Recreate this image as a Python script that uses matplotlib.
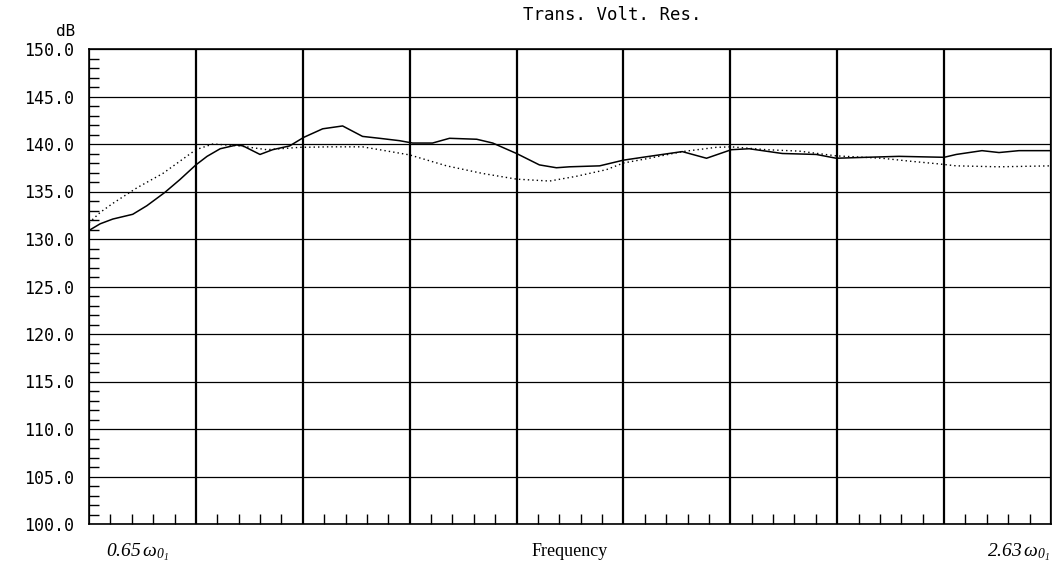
import numpy as np
import matplotlib
matplotlib.use("Agg")
import matplotlib.pyplot as plt
from matplotlib.ticker import MultipleLocator, FixedLocator, NullFormatter

plt.rcParams['mathtext.fontset'] = 'custom'
plt.rcParams['mathtext.rm'] = 'Liberation Serif:italic'
plt.rcParams['mathtext.it'] = 'Liberation Serif:italic'
plt.rcParams['mathtext.fallback'] = 'stix'

# ---------------- data ----------------
title = "Trans. Volt. Res."
y_unit = "dB"
x_label = "Frequency"
x_start_label = r"0.65$\,\omega_{0_{1}}$"
x_end_label = r"2.63$\,\omega_{0_{1}}$"
f_min, f_max = 0.65, 2.63
n_divisions = 9
y_min, y_max = 100.0, 150.0
y_ticks = [100.0, 105.0, 110.0, 115.0, 120.0, 125.0, 130.0, 135.0, 140.0, 145.0, 150.0]

solid_freq = [0.65, 0.673, 0.699, 0.740, 0.769, 0.806, 0.837, 0.870, 0.893, 0.920,
              0.954, 0.967, 1.002, 1.028, 1.063, 1.092, 1.131, 1.172, 1.213, 1.248,
              1.289, 1.316, 1.357, 1.392, 1.448, 1.481, 1.530, 1.577, 1.612, 1.639,
              1.701, 1.750, 1.803, 1.871, 1.921, 1.972, 2.009, 2.077, 2.147, 2.188,
              2.250, 2.317, 2.410, 2.435, 2.488, 2.523, 2.564, 2.63]
solid_db = [130.9, 131.6, 132.1, 132.6, 133.5, 134.9, 136.25, 137.8, 138.7, 139.5,
            139.9, 139.8, 138.9, 139.4, 139.8, 140.7, 141.6, 141.9, 140.8, 140.6,
            140.35, 140.1, 140.1, 140.6, 140.5, 140.1, 139.0, 137.8, 137.5, 137.6,
            137.7, 138.3, 138.7, 139.2, 138.5, 139.4, 139.5, 139.0, 138.9, 138.5,
            138.6, 138.7, 138.6, 138.9, 139.3, 139.1, 139.3, 139.3]

dotted_freq = [0.65, 0.673, 0.699, 0.749, 0.802, 0.870, 0.905, 0.960, 1.016, 1.084,
               1.145, 1.213, 1.248, 1.310, 1.386, 1.460, 1.530, 1.598, 1.653, 1.715,
               1.750, 1.803, 1.871, 1.941, 1.972, 2.044, 2.112, 2.188, 2.282, 2.338,
               2.400, 2.435, 2.523, 2.63]
dotted_db = [131.7, 132.8, 133.75, 135.4, 136.9, 139.4, 140.0, 139.8, 139.4, 139.65,
             139.7, 139.7, 139.4, 138.85, 137.7, 136.9, 136.3, 136.1, 136.6, 137.3,
             138.0, 138.5, 139.2, 139.65, 139.7, 139.4, 139.25, 138.75, 138.5, 138.2,
             137.9, 137.7, 137.6, 137.7]

# ---------------- figure ----------------
W, H = 1052, 570
fig = plt.figure(figsize=(W / 100, H / 100), dpi=100)
ax = fig.add_axes([89 / W, 1 - 524 / H, 962 / W, 475 / H])

ax.plot(solid_freq, solid_db, color="black", lw=1.1, solid_joinstyle="round", zorder=3)
ax.plot(dotted_freq, dotted_db, color="black", lw=1.0, linestyle=(0, (1, 2.2)), zorder=3)

ax.set_xlim(f_min, f_max)
ax.set_ylim(y_min, y_max)

major_x = np.linspace(f_min, f_max, n_divisions + 1)
minor_x = np.linspace(f_min, f_max, n_divisions * 5 + 1)
ax.xaxis.set_major_locator(FixedLocator(major_x))
ax.xaxis.set_minor_locator(FixedLocator(minor_x))
ax.xaxis.set_major_formatter(NullFormatter())

ax.set_yticks(y_ticks)
ax.set_yticklabels(["%.1f" % v for v in y_ticks], family="DejaVu Sans Mono", fontsize=12)
ax.yaxis.set_minor_locator(MultipleLocator(1))

ax.tick_params(axis="both", which="major", length=0)
ax.tick_params(axis="y", which="major", pad=11)
ax.tick_params(axis="both", which="minor", direction="in", length=7, width=1.0, color="black")

ax.grid(True, axis="y", which="major", color="black", lw=0.9)
ax.grid(True, axis="x", which="major", color="black", lw=1.6)
for s in ax.spines.values():
    s.set_color("black")
    s.set_linewidth(1.2)

fig.text(612 / W, 1 - 15 / H, title, ha="center", va="center",
         family="DejaVu Sans Mono", fontsize=12.5)
fig.text(66 / W, 1 - 32 / H, y_unit, ha="center", va="center",
         family="DejaVu Sans Mono", fontsize=11.5)
fig.text(106 / W, 1 - 552 / H, x_start_label, ha="left", va="center", fontsize=14,
         family="Liberation Serif", style="italic")
fig.text(570 / W, 1 - 552 / H, x_label, ha="center", va="center",
         family="Liberation Serif", fontsize=13)
fig.text(1050 / W, 1 - 552 / H, x_end_label, ha="right", va="center", fontsize=14,
         family="Liberation Serif", style="italic")

fig.savefig("out.png", dpi=100)
